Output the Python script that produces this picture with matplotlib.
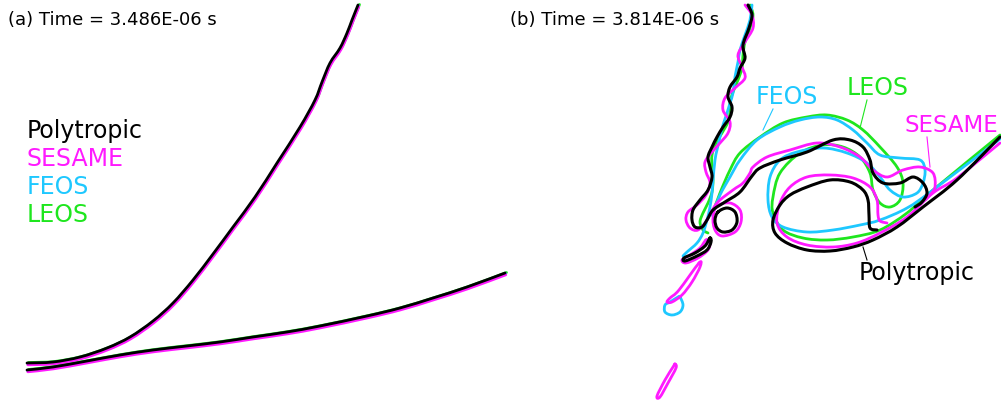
import matplotlib
matplotlib.use("Agg")
import matplotlib.pyplot as plt
import matplotlib.transforms as mtrans
from matplotlib.path import Path
from matplotlib.patches import PathPatch

# ---------------- colours ----------------
C_POLY = "#000000"
C_SES = "#ff1aff"
C_FEOS = "#1ec8ff"
C_LEOS = "#1ee61e"

# ---------------- panel (a) : interface traces (pixel coords) ----------------
a_upper_x = [27, 53, 80, 107, 130, 153, 173, 193, 213, 233, 255, 277, 300, 315, 322, 330, 340, 347, 352, 358]
a_upper_y = [363, 362, 357, 348, 337, 321, 303, 280, 254, 227, 197, 163, 127, 100, 82, 63, 48, 33, 20, 5]
a_lower_x = [27, 53, 87, 120, 153, 187, 220, 253, 287, 320, 367, 400, 433, 467, 505]
a_lower_y = [370, 367, 361, 355, 350, 346, 342, 337, 332, 326, 316, 308, 298, 287, 273]

# ---------------- panel (b) : interface traces (pixel coords) ----------------
# Polytropic (black)
b_poly_outer_x = [748, 752, 749, 743, 745, 740, 737, 730, 728, 732, 730, 723, 717, 712, 708, 710, 712, 708,
                  700, 693, 692, 695, 702, 707, 713, 725, 740, 752, 760, 780, 807, 833, 850, 863, 870, 873,
                  883, 900, 913, 923, 927, 922, 915]
b_poly_outer_y = [5, 15, 28, 45, 58, 68, 77, 87, 97, 107, 117, 127, 137, 147, 157, 167, 177, 190,
                  200, 210, 220, 227, 227, 220, 210, 202, 192, 176, 168, 160, 152, 140, 140, 147, 160, 173,
                  183, 183, 177, 183, 193, 202, 207]
b_poly_inner_x = [1000, 957, 923, 897, 873, 853, 830, 807, 787, 775, 773, 780, 790, 807, 830, 850, 863, 868, 869, 870, 877]
b_poly_inner_y = [137, 180, 207, 227, 240, 247, 251, 250, 243, 233, 220, 205, 195, 187, 180, 182, 190, 200, 215, 228, 230]
b_poly_loop_x = [718, 727, 735, 737, 732, 723, 717, 715, 718]
b_poly_loop_y = [212, 208, 212, 222, 230, 232, 228, 220, 212]
b_poly_finger_x = [710, 705, 695, 684, 685, 697, 707, 711, 710]
b_poly_finger_y = [238, 246, 253, 258, 261, 256, 250, 242, 238]

# SESAME (magenta)
b_ses_outer_x = [745, 752, 753, 745, 738, 742, 745, 735, 725, 723, 730, 728, 720, 712, 705, 706, 710, 706,
                 697, 688, 686, 690, 698, 707, 717, 733, 743, 750, 753, 767, 790, 817, 840, 860, 873, 887,
                 903, 920, 933, 935, 930, 925]
b_ses_outer_y = [5, 15, 28, 42, 55, 67, 78, 88, 98, 110, 122, 133, 143, 152, 162, 172, 183, 195,
                 205, 212, 220, 228, 230, 220, 203, 190, 183, 173, 167, 157, 150, 143, 147, 157, 170, 177,
                 170, 167, 173, 187, 195, 200]
b_ses_inner_x = [1000, 957, 933, 907, 880, 857, 833, 807, 787, 777, 780, 790, 807, 830, 853, 870, 877, 878, 880, 887]
b_ses_inner_y = [143, 178, 193, 217, 233, 243, 247, 245, 237, 223, 203, 187, 177, 175, 178, 187, 200, 215, 221, 223]
b_ses_loop_x = [717, 730, 740, 741, 735, 722, 715, 713, 717]
b_ses_loop_y = [206, 203, 210, 222, 232, 236, 230, 218, 206]
b_ses_finger_x = [706, 700, 690, 682, 686, 698, 708, 710, 706]
b_ses_finger_y = [240, 248, 255, 260, 263, 258, 250, 242, 240]
b_ses_drop1_x = [699, 679, 670, 667, 672, 682, 692, 700, 699]
b_ses_drop1_y = [263, 290, 298, 302, 302, 295, 282, 267, 263]
b_ses_drop2_x = [675, 673, 665, 657, 660, 668, 676, 675]
b_ses_drop2_y = [364, 367, 380, 396, 397, 383, 368, 364]

# FEOS (cyan)
b_feos_stem_x = [752, 750, 745, 740, 738, 735, 733, 730, 727, 723, 720, 717, 715, 713, 712, 710, 707, 703, 697, 687, 683]
b_feos_stem_y = [5, 20, 35, 50, 62, 77, 93, 103, 113, 125, 137, 150, 160, 180, 193, 207, 220, 233, 243, 252, 256]
b_feos_body_x = [712, 720, 730, 740, 757, 780, 800, 820, 837, 853, 867, 880, 900, 920, 925, 923, 917, 903, 890,
                 880, 867, 847, 823, 797, 780, 770, 768, 772, 783, 807, 833, 860, 880, 907, 933, 1000]
b_feos_body_y = [215, 195, 177, 160, 140, 127, 120, 117, 120, 130, 143, 155, 158, 160, 170, 183, 193, 197, 190,
                 177, 163, 153, 148, 152, 160, 177, 200, 217, 227, 232, 230, 225, 220, 208, 190, 139]
b_feos_drop_x = [680, 683, 680, 672, 665, 665, 670, 678, 680]
b_feos_drop_y = [297, 305, 312, 315, 312, 305, 302, 297, 297]

# LEOS (green)
b_leos_stem_x = [750, 753, 750, 745, 743, 742, 738, 733, 730, 730, 728, 722, 716, 712, 712, 713, 712, 708, 703, 700, 703, 708]
b_leos_stem_y = [5, 15, 28, 42, 55, 68, 80, 92, 102, 112, 122, 133, 143, 155, 168, 180, 192, 203, 213, 222, 230, 233]
b_leos_body_x = [712, 720, 730, 740, 760, 783, 807, 827, 847, 863, 880, 897, 903, 900, 890, 880, 873, 870, 860,
                 843, 823, 800, 780, 773, 773, 783, 803, 827, 853, 880, 907, 933, 1000]
b_leos_body_y = [215, 193, 170, 153, 137, 123, 117, 115, 120, 130, 147, 167, 183, 200, 207, 203, 190, 173, 157,
                 147, 145, 153, 173, 197, 213, 230, 238, 240, 237, 230, 213, 190, 135]

# labels
legend_labels = ["Polytropic", "SESAME", "FEOS", "LEOS"]
legend_colors = [C_POLY, C_SES, C_FEOS, C_LEOS]
titles = ["(a) Time = 3.486E-06 s", "(b) Time = 3.814E-06 s"]

fig = plt.figure(figsize=(10.01, 4.03), dpi=100)
ax = fig.add_axes([0, 0, 1, 1])
ax.set_xlim(0, 1001)
ax.set_ylim(403, 0)
ax.axis("off")


def off(dx, dy):
    return ax.transData + mtrans.ScaledTranslation(dx / 100, -dy / 100, fig.dpi_scale_trans)


def smooth(xs, ys, color, lw, transform=None):
    """Draw a smooth curve through the traced points (Catmull-Rom as cubic Bezier)."""
    pts = list(zip(xs, ys))
    n = len(pts)
    closed = pts[0] == pts[-1]
    verts = [pts[0]]
    codes = [Path.MOVETO]
    for i in range(n - 1):
        p1 = pts[i]
        p2 = pts[i + 1]
        if i > 0:
            p0 = pts[i - 1]
        else:
            p0 = pts[-2] if closed else p1
        if i + 2 < n:
            p3 = pts[i + 2]
        else:
            p3 = pts[1] if closed else p2
        c1 = (p1[0] + (p2[0] - p0[0]) / 6.0, p1[1] + (p2[1] - p0[1]) / 6.0)
        c2 = (p2[0] - (p3[0] - p1[0]) / 6.0, p2[1] - (p3[1] - p1[1]) / 6.0)
        verts += [c1, c2, p2]
        codes += [Path.CURVE4] * 3
    patch = PathPatch(Path(verts, codes), fill=False, edgecolor=color, lw=lw,
                      capstyle="round", joinstyle="round",
                      transform=transform if transform is not None else ax.transData)
    ax.add_patch(patch)


LW = 2.0
# panel (a)
for col, dx, dy in [(C_LEOS, 1.5, -0.5), (C_FEOS, 0.5, 0.5), (C_SES, 0.8, 1.8), (C_POLY, 0, 0)]:
    smooth(a_upper_x, a_upper_y, col, LW, off(dx, dy))
    smooth(a_lower_x, a_lower_y, col, LW, off(dx, dy))

# panel (b)
for xs, ys in [(b_leos_stem_x, b_leos_stem_y), (b_leos_body_x, b_leos_body_y)]:
    smooth(xs, ys, C_LEOS, LW)
for xs, ys in [(b_feos_stem_x, b_feos_stem_y), (b_feos_body_x, b_feos_body_y), (b_feos_drop_x, b_feos_drop_y)]:
    smooth(xs, ys, C_FEOS, LW)
for xs, ys in [(b_ses_outer_x, b_ses_outer_y), (b_ses_inner_x, b_ses_inner_y), (b_ses_loop_x, b_ses_loop_y),
               (b_ses_finger_x, b_ses_finger_y), (b_ses_drop1_x, b_ses_drop1_y), (b_ses_drop2_x, b_ses_drop2_y)]:
    smooth(xs, ys, C_SES, LW)
for xs, ys in [(b_poly_outer_x, b_poly_outer_y), (b_poly_inner_x, b_poly_inner_y), (b_poly_loop_x, b_poly_loop_y),
               (b_poly_finger_x, b_poly_finger_y)]:
    smooth(xs, ys, C_POLY, 2.2)

FONT = ["DejaVu Sans"]
ax.text(8, 20, titles[0], fontsize=13, va="center", ha="left", family=FONT)
ax.text(510, 20, titles[1], fontsize=13, va="center", ha="left", family=FONT)

for i, (lab, col) in enumerate(zip(legend_labels, legend_colors)):
    ax.text(27, 131 + 28 * i, lab, color=col, fontsize=17, va="center", ha="left", family=FONT)

# annotations in (b)
ax.text(756, 97, "FEOS", color=C_FEOS, fontsize=17, va="center", ha="left", family=FONT)
ax.plot([773, 763], [109, 130], color=C_FEOS, lw=0.8)
ax.text(847, 88, "LEOS", color=C_LEOS, fontsize=17, va="center", ha="left", family=FONT)
ax.plot([867, 860], [100, 128], color=C_LEOS, lw=0.8)
ax.text(905, 125, "SESAME", color=C_SES, fontsize=16.5, va="center", ha="left", family=FONT)
ax.plot([927, 930], [137, 167], color=C_SES, lw=0.8)
ax.text(859, 273, "Polytropic", color=C_POLY, fontsize=17, va="center", ha="left", family=FONT)
ax.plot([863, 867], [247, 260], color=C_POLY, lw=0.8)

fig.savefig("out.png", dpi=100)
